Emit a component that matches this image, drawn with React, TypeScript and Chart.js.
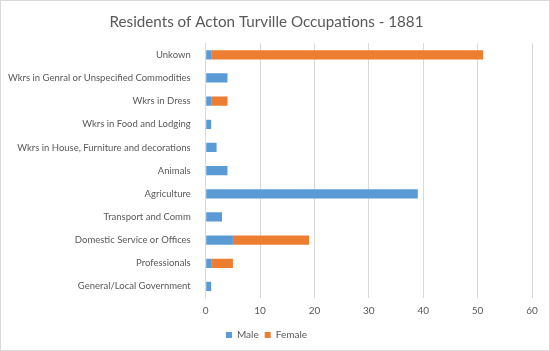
import React, { useEffect, useRef } from "react";
import { Chart, registerables } from "chart.js";

Chart.register(...registerables);

const categories = [
  "Unkown",
  "Wkrs in Genral or Unspecified Commodities",
  "Wkrs in Dress",
  "Wkrs in Food and Lodging",
  "Wkrs in House, Furniture and decorations",
  "Animals",
  "Agriculture",
  "Transport and Comm",
  "Domestic Service or Offices",
  "Professionals",
  "General/Local Government",
];
const maleValues = [1, 4, 1, 1, 2, 4, 39, 3, 5, 1, 1];
const femaleValues = [50, 0, 3, 0, 0, 0, 0, 0, 14, 4, 0];
const xTicks = [0, 10, 20, 30, 40, 50, 60];

const FONT = "Lato, 'Open Sans', sans-serif";
const TEXT = "#595959";

export default function App() {
  const ref = useRef<HTMLCanvasElement | null>(null);
  useEffect(() => {
    document.body.style.margin = "0";
    const ctx = ref.current!;
    const chart = new Chart(ctx, {
      type: "bar",
      data: {
        labels: categories,
        datasets: [
          { label: "Male", data: maleValues, backgroundColor: "#5B9BD5" },
          { label: "Female", data: femaleValues, backgroundColor: "#ED7D31" },
        ],
      },
      options: {
        indexAxis: "y",
        animation: false,
        responsive: false,
        maintainAspectRatio: false,
        layout: { padding: { left: 0, right: 17, top: 4, bottom: 0 } },
        datasets: { bar: { categoryPercentage: 1, barPercentage: 0.4 } },
        scales: {
          x: {
            stacked: true,
            min: 0,
            max: 60,
            afterBuildTicks: (axis: any) => {
              axis.ticks = xTicks.map((v) => ({ value: v }));
            },
            grid: { color: "#d9d9d9", drawTicks: false, lineWidth: 1 },
            border: { display: false },
            ticks: { color: TEXT, font: { family: FONT, size: 10 }, padding: 7 },
          },
          y: {
            stacked: true,
            grid: { display: false },
            border: { display: true, color: "#d9d9d9" },
            ticks: { color: TEXT, font: { family: FONT, size: 9.5 }, padding: 7, autoSkip: false },
          },
        },
        plugins: {
          title: {
            display: true,
            text: "Residents of Acton Turville Occupations - 1881",
            color: TEXT,
            font: { family: FONT, size: 15.2, weight: "normal" },
            padding: { top: 8, bottom: 12 },
          },
          legend: {
            position: "bottom",
            labels: {
              color: TEXT,
              font: { family: FONT, size: 10 },
              boxWidth: 6,
              boxHeight: 6,
              padding: 6,
            },
          },
          tooltip: { enabled: false },
        },
      },
    });
    return () => chart.destroy();
  }, []);
  return (
    <div style={{ width: 550, height: 351, boxSizing: "border-box", border: "1px solid #d9d9d9", background: "#fff" }}>
      <canvas ref={ref} width={548} height={349} />
    </div>
  );
}
